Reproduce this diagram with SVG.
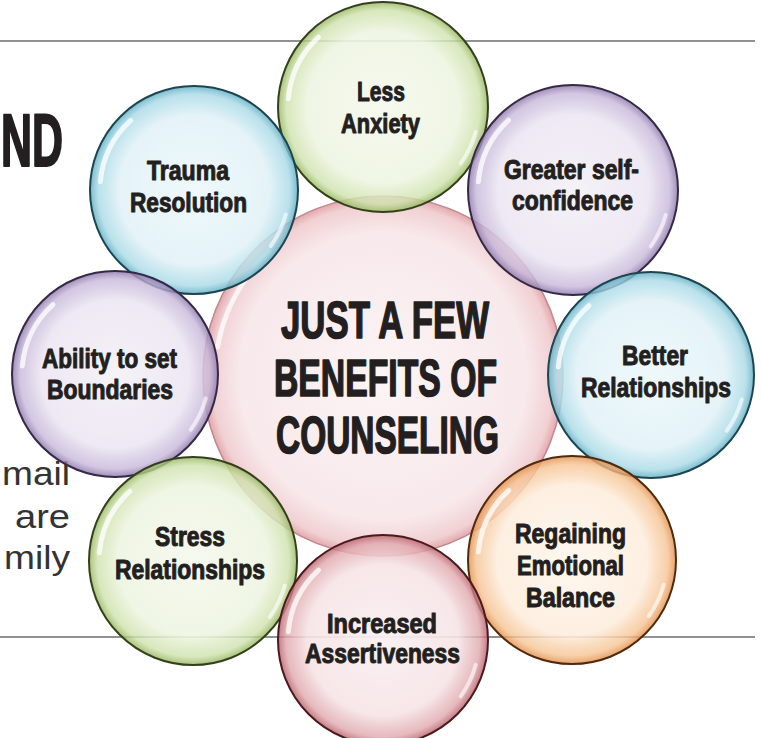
<svg xmlns="http://www.w3.org/2000/svg" width="762" height="738" viewBox="0 0 762 738">
  <style>
    .lbl { font-family: "Liberation Sans", Arial, sans-serif; font-weight: bold; font-size: 27px; fill: #231f20; stroke: #231f20; stroke-width: 1; stroke-linejoin: round; }
    .title { font-family: "Liberation Sans", Arial, sans-serif; font-weight: bold; font-size: 51px; fill: #231f20; stroke: #231f20; stroke-width: 1.6; stroke-linejoin: round; }
    .big { font-family: "Liberation Sans", Arial, sans-serif; font-weight: bold; font-size: 74px; fill: #231f20; stroke: #231f20; stroke-width: 2.2; stroke-linejoin: round; }
    .body { font-family: "Liberation Sans", Arial, sans-serif; font-size: 33px; fill: #333333; }
    .rule { stroke: #6d6d6d; stroke-width: 1.5; fill: none; }
    .hl { fill: none; stroke: #ffffff; stroke-width: 5; stroke-linecap: round; opacity: 0.75; }
    .hl2 { fill: none; stroke: #ffffff; stroke-width: 4; stroke-linecap: round; opacity: 0.6; }
  </style>
  <defs>
    <radialGradient id="gCenter" cx="50%" cy="50%" r="50%">
      <stop offset="0%" stop-color="#fcf4f5"/>
      <stop offset="80%" stop-color="#f8e9eb"/>
      <stop offset="95%" stop-color="#f1d0d3"/>
      <stop offset="100%" stop-color="#e2a9ae"/>
    </radialGradient>
    <radialGradient id="gGreen" cx="50%" cy="50%" r="50%">
      <stop offset="0%" stop-color="#f5f9ee" stop-opacity="0.95"/>
      <stop offset="72%" stop-color="#eef5e2" stop-opacity="0.9"/>
      <stop offset="92%" stop-color="#cfe2ad" stop-opacity="0.8"/>
      <stop offset="100%" stop-color="#98b862" stop-opacity="0.85"/>
    </radialGradient>
    <radialGradient id="gBlue" cx="50%" cy="50%" r="50%">
      <stop offset="0%" stop-color="#eef8fb" stop-opacity="0.95"/>
      <stop offset="72%" stop-color="#e2f2f7" stop-opacity="0.9"/>
      <stop offset="92%" stop-color="#a9dae7" stop-opacity="0.8"/>
      <stop offset="100%" stop-color="#62afc4" stop-opacity="0.85"/>
    </radialGradient>
    <radialGradient id="gPurple" cx="50%" cy="50%" r="50%">
      <stop offset="0%" stop-color="#f4f1f7" stop-opacity="0.95"/>
      <stop offset="72%" stop-color="#ece6f2" stop-opacity="0.9"/>
      <stop offset="92%" stop-color="#c7b8da" stop-opacity="0.8"/>
      <stop offset="100%" stop-color="#8f79ad" stop-opacity="0.85"/>
    </radialGradient>
    <radialGradient id="gOrange" cx="50%" cy="50%" r="50%">
      <stop offset="0%" stop-color="#fef6ee" stop-opacity="0.95"/>
      <stop offset="72%" stop-color="#fdeede" stop-opacity="0.9"/>
      <stop offset="92%" stop-color="#f6c494" stop-opacity="0.8"/>
      <stop offset="100%" stop-color="#e3924e" stop-opacity="0.85"/>
    </radialGradient>
    <radialGradient id="gPink" cx="50%" cy="50%" r="50%">
      <stop offset="0%" stop-color="#faf0f1" stop-opacity="0.95"/>
      <stop offset="72%" stop-color="#f6e4e6" stop-opacity="0.9"/>
      <stop offset="92%" stop-color="#e0a9ae" stop-opacity="0.8"/>
      <stop offset="100%" stop-color="#b9656d" stop-opacity="0.85"/>
    </radialGradient>
  </defs>

  <rect x="0" y="0" width="762" height="738" fill="#ffffff"/>

  <g id="rules">
    <line class="rule" x1="0" y1="41" x2="755" y2="41"/>
    <line class="rule" x1="0" y1="637" x2="755" y2="637"/>
  </g>

  <g id="side-text">
    <text class="big" x="1" y="166" textLength="62" lengthAdjust="spacingAndGlyphs">ND</text>
    <text class="body" x="2" y="485" textLength="68" lengthAdjust="spacingAndGlyphs">mail</text>
    <text class="body" x="15" y="528" textLength="55" lengthAdjust="spacingAndGlyphs">are</text>
    <text class="body" x="4" y="569" textLength="66" lengthAdjust="spacingAndGlyphs">mily</text>
  </g>

  <g id="center">
    <circle cx="383" cy="376" r="180" fill="url(#gCenter)" stroke="#c4868c" stroke-width="1.5"/>
    <circle class="hl" cx="383" cy="376" r="168" stroke-dasharray="110 1100" transform="rotate(190 383 376)"/>
    <text class="title" x="281" y="338" textLength="208" lengthAdjust="spacingAndGlyphs">JUST A FEW</text>
    <text class="title" x="274" y="396" textLength="223" lengthAdjust="spacingAndGlyphs">BENEFITS OF</text>
    <text class="title" x="276" y="453" textLength="223" lengthAdjust="spacingAndGlyphs">COUNSELING</text>
  </g>

  <g id="less-anxiety">
    <circle cx="383" cy="107" r="105" fill="url(#gGreen)" stroke="#34401c" stroke-width="2"/>
    <circle class="hl" cx="383" cy="107" r="95" stroke-dasharray="70 600" transform="rotate(185 383 107)"/>
    <circle class="hl2" cx="383" cy="107" r="96" stroke-dasharray="35 600" transform="rotate(15 383 107)"/>
    <text class="lbl" x="357" y="101" textLength="48" lengthAdjust="spacingAndGlyphs">Less</text>
    <text class="lbl" x="341" y="133" textLength="79" lengthAdjust="spacingAndGlyphs">Anxiety</text>
  </g>

  <g id="trauma-resolution">
    <circle cx="194" cy="190" r="104" fill="url(#gBlue)" stroke="#1d4550" stroke-width="2"/>
    <circle class="hl" cx="194" cy="190" r="94" stroke-dasharray="70 600" transform="rotate(185 194 190)"/>
    <circle class="hl2" cx="194" cy="190" r="95" stroke-dasharray="35 600" transform="rotate(15 194 190)"/>
    <text class="lbl" x="147" y="180" textLength="82" lengthAdjust="spacingAndGlyphs">Trauma</text>
    <text class="lbl" x="130" y="212" textLength="117" lengthAdjust="spacingAndGlyphs">Resolution</text>
  </g>

  <g id="greater-self-confidence">
    <circle cx="573" cy="190" r="105" fill="url(#gPurple)" stroke="#352a45" stroke-width="2"/>
    <circle class="hl" cx="573" cy="190" r="95" stroke-dasharray="70 600" transform="rotate(185 573 190)"/>
    <circle class="hl2" cx="573" cy="190" r="96" stroke-dasharray="35 600" transform="rotate(15 573 190)"/>
    <text class="lbl" x="504" y="179" textLength="135" lengthAdjust="spacingAndGlyphs">Greater self-</text>
    <text class="lbl" x="512" y="210" textLength="121" lengthAdjust="spacingAndGlyphs">confidence</text>
  </g>

  <g id="ability-to-set-boundaries">
    <circle cx="115" cy="374" r="103" fill="url(#gPurple)" stroke="#352a45" stroke-width="2"/>
    <circle class="hl" cx="115" cy="374" r="93" stroke-dasharray="70 600" transform="rotate(185 115 374)"/>
    <circle class="hl2" cx="115" cy="374" r="94" stroke-dasharray="35 600" transform="rotate(15 115 374)"/>
    <text class="lbl" x="42" y="368" textLength="135" lengthAdjust="spacingAndGlyphs">Ability to set</text>
    <text class="lbl" x="47" y="399" textLength="126" lengthAdjust="spacingAndGlyphs">Boundaries</text>
  </g>

  <g id="better-relationships">
    <circle cx="651" cy="375" r="103" fill="url(#gBlue)" stroke="#1d4550" stroke-width="2"/>
    <circle class="hl" cx="651" cy="375" r="93" stroke-dasharray="70 600" transform="rotate(185 651 375)"/>
    <circle class="hl2" cx="651" cy="375" r="94" stroke-dasharray="35 600" transform="rotate(15 651 375)"/>
    <text class="lbl" x="622" y="365" textLength="66" lengthAdjust="spacingAndGlyphs">Better</text>
    <text class="lbl" x="581" y="397" textLength="150" lengthAdjust="spacingAndGlyphs">Relationships</text>
  </g>

  <g id="stress-relationships">
    <circle cx="193" cy="561" r="104" fill="url(#gGreen)" stroke="#34401c" stroke-width="2"/>
    <circle class="hl" cx="193" cy="561" r="94" stroke-dasharray="70 600" transform="rotate(185 193 561)"/>
    <circle class="hl2" cx="193" cy="561" r="95" stroke-dasharray="35 600" transform="rotate(15 193 561)"/>
    <text class="lbl" x="155" y="546" textLength="70" lengthAdjust="spacingAndGlyphs">Stress</text>
    <text class="lbl" x="115" y="579" textLength="150" lengthAdjust="spacingAndGlyphs">Relationships</text>
  </g>

  <g id="regaining-emotional-balance">
    <circle cx="572" cy="560" r="104" fill="url(#gOrange)" stroke="#4f2a0e" stroke-width="2"/>
    <circle class="hl" cx="572" cy="560" r="94" stroke-dasharray="70 600" transform="rotate(185 572 560)"/>
    <circle class="hl2" cx="572" cy="560" r="95" stroke-dasharray="35 600" transform="rotate(15 572 560)"/>
    <text class="lbl" x="515" y="543" textLength="111" lengthAdjust="spacingAndGlyphs">Regaining</text>
    <text class="lbl" x="517" y="575" textLength="107" lengthAdjust="spacingAndGlyphs">Emotional</text>
    <text class="lbl" x="526" y="607" textLength="89" lengthAdjust="spacingAndGlyphs">Balance</text>
  </g>

  <g id="increased-assertiveness">
    <circle cx="383" cy="640" r="105" fill="url(#gPink)" stroke="#4a1a1e" stroke-width="2"/>
    <circle class="hl" cx="383" cy="640" r="95" stroke-dasharray="70 600" transform="rotate(185 383 640)"/>
    <circle class="hl2" cx="383" cy="640" r="96" stroke-dasharray="35 600" transform="rotate(15 383 640)"/>
    <text class="lbl" x="327" y="633" textLength="110" lengthAdjust="spacingAndGlyphs">Increased</text>
    <text class="lbl" x="305" y="663" textLength="155" lengthAdjust="spacingAndGlyphs">Assertiveness</text>
  </g>
</svg>
